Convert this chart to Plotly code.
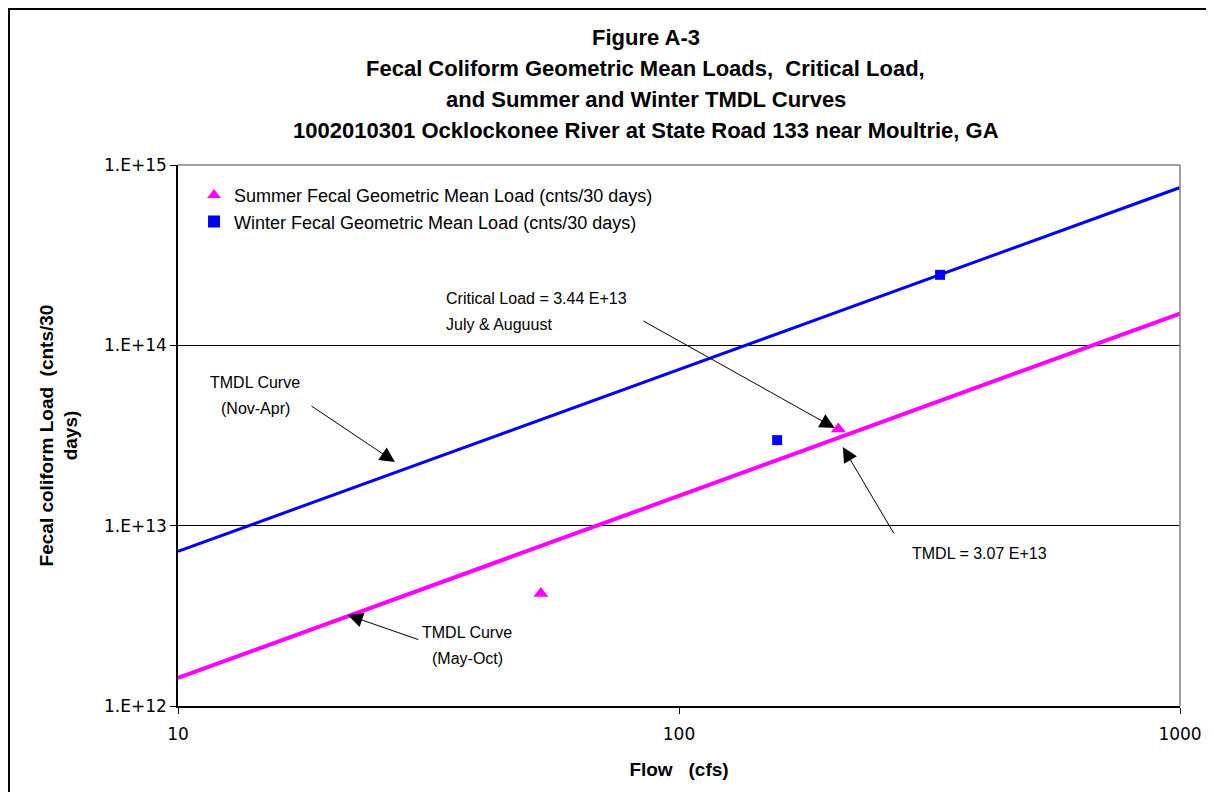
import plotly.graph_objects as go

# TMDL curves (flow in cfs, load in counts / 30 days)
curve_flow = [10, 1000]
winter_tmdl = [7.2e12, 7.5e14]
summer_tmdl = [1.43e12, 1.5e14]

# geometric mean loads
summer_flow = [53, 208]
summer_load = [4.2e12, 3.44e13]
winter_flow = [157, 332]
winter_load = [2.98e13, 2.46e14]

y_ticks = [1e12, 1e13, 1e14, 1e15]
y_tick_text = ["1.E+12", "1.E+13", "1.E+14", "1.E+15"]
x_ticks = [10, 100, 1000]

FONT = "Liberation Sans, Arial, sans-serif"
TICK_FONT = "DejaVu Sans, sans-serif"

fig = go.Figure()
fig.add_trace(go.Scatter(x=curve_flow, y=winter_tmdl, mode="lines", showlegend=False,
                         line=dict(color="#0000ff", width=3), hoverinfo="skip"))
fig.add_trace(go.Scatter(x=curve_flow, y=summer_tmdl, mode="lines", showlegend=False,
                         line=dict(color="#ff00ff", width=4), hoverinfo="skip"))
fig.add_trace(go.Scatter(x=summer_flow, y=summer_load, mode="markers",
                         name="Summer Fecal Geometric Mean Load (cnts/30 days)",
                         marker=dict(symbol="triangle-up", size=13, color="#ff00ff")))
fig.add_trace(go.Scatter(x=winter_flow, y=winter_load, mode="markers",
                         name="Winter Fecal Geometric Mean Load (cnts/30 days)",
                         marker=dict(symbol="square", size=10, color="#0000ff")))

title_lines = [
    "Figure A-3",
    "Fecal Coliform Geometric Mean Loads,  Critical Load,",
    "and Summer and Winter TMDL Curves",
    "1002010301 Ocklockonee River at State Road 133 near Moultrie, GA",
]

annotations = []
for i, line in enumerate(title_lines):
    annotations.append(dict(text="<b>%s</b>" % line, xref="paper", yref="paper",
                            x=0.467, y=1.0, yshift=128 - 31 * i, xanchor="center",
                            yanchor="middle", showarrow=False,
                            font=dict(size=22, family=FONT, color="black")))


def add_text(lines, x, y, anchor="center"):
    # multi-line label with Excel-like line spacing
    for i, line in enumerate(lines):
        annotations.append(dict(text=line, x=x, y=y, xref="x", yref="y", xanchor=anchor,
                                yanchor="middle", yshift=13 * (len(lines) - 1) - 26 * i,
                                showarrow=False,
                                font=dict(size=16, family=FONT, color="black")))


add_text(["TMDL Curve", "(Nov-Apr)"], 1.154, 13.724)
add_text(["Critical Load = 3.44 E+13", "July & Auguust"], 1.531, 14.19, anchor="left")
add_text(["TMDL = 3.07 E+13"], 2.461, 12.848, anchor="left")
add_text(["TMDL Curve", "(May-Oct)"], 1.577, 12.338)

# arrows: (head x, head y, tail offset x, tail offset y)
arrows = [
    (1.433, 13.353, -85, -57),
    (2.311, 13.541, -193, -108),
    (2.327, 13.436, 52, 88),
    (1.339, 12.504, 72, 25),
]
for hx, hy, ax, ay in arrows:
    annotations.append(dict(text="", x=hx, y=hy, xref="x", yref="y", ax=ax, ay=ay,
                            showarrow=True, arrowhead=2, arrowsize=3, arrowwidth=1,
                            arrowcolor="black"))

fig.update_layout(
    width=1206, height=784,
    margin=dict(l=170, r=34, t=157, b=86),
    paper_bgcolor="white", plot_bgcolor="white",
    font=dict(family=FONT, size=16, color="black"),
    annotations=annotations,
    legend=dict(x=0.016, y=0.978, xanchor="left", yanchor="top", bgcolor="rgba(0,0,0,0)",
                font=dict(size=18), itemsizing="constant", tracegroupgap=0, itemwidth=30),
    xaxis=dict(type="log", range=[1, 3], tickvals=x_ticks, ticktext=[str(v) for v in x_ticks],
               showgrid=False, zeroline=False, showline=True, linecolor="black", linewidth=1.5,
               ticks="outside", ticklen=6, tickcolor="black", ticklabelstandoff=6,
               tickfont=dict(family=TICK_FONT, size=17),
               title=dict(text="<b>Flow   (cfs)</b>", font=dict(size=19), standoff=20)),
    yaxis=dict(type="log", range=[12, 15], tickvals=y_ticks, ticktext=y_tick_text,
               showgrid=True, gridcolor="black", gridwidth=1, zeroline=False,
               showline=True, linecolor="black", linewidth=1.5,
               ticks="outside", ticklen=6, tickcolor="black",
               tickfont=dict(family=TICK_FONT, size=17),
               title=dict(text="<b>Fecal coliform Load  (cnts/30<br>days)</b>", font=dict(size=19),
                          standoff=21)),
    shapes=[
        dict(type="line", xref="paper", yref="paper", x0=0, x1=1, y0=1, y1=1,
             line=dict(color="#808080", width=1.5)),
        dict(type="line", xref="paper", yref="paper", x0=1, x1=1, y0=0, y1=1,
             line=dict(color="#808080", width=1.5)),
        dict(type="rect", xref="paper", yref="paper", x0=-0.1687, x1=1.06, y0=-0.3, y1=1.2884,
             line=dict(color="black", width=2), layer="below"),
    ],
)

fig.write_html("out.html")
